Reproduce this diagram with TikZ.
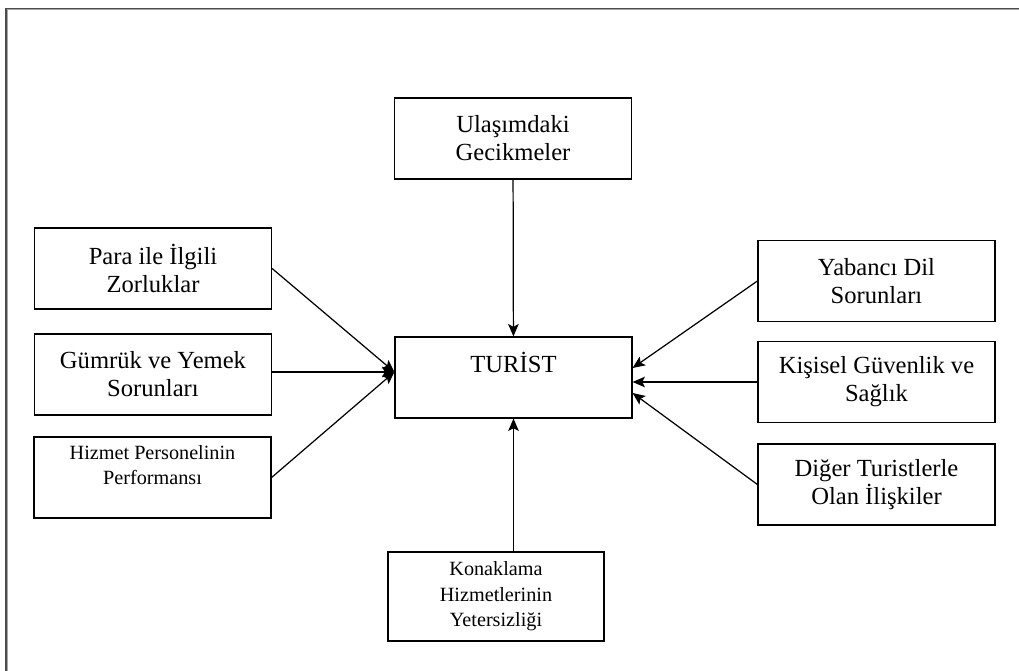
\documentclass[tikz,border=0pt]{standalone}
\usepackage{fontspec}
\setmainfont{Liberation Serif}
\usetikzlibrary{arrows.meta,calc}

\begin{document}
\begin{tikzpicture}[x=0.02cm,y=-0.02cm,
    factor/.style={draw, rectangle, line width=0.7pt, align=center, inner sep=0pt,
      minimum width=4.74cm, minimum height=1.62cm, font=\fontsize{14}{16}\selectfont},
    small/.style={font=\fontsize{11.5}{14}\selectfont},
    arr/.style={-{Stealth[length=7pt,width=6pt,inset=1.5pt]}, line width=0.7pt}]

    \useasboundingbox (0,0) rectangle (1019,671);

    % Page frame (top and left only)
    \draw[black!70, line width=0.6pt] (6,671) -- (6,8.5) -- (1019,8.5);
    \draw[black!35, line width=0.6pt] (7.2,671) -- (7.2,9.7) -- (1019,9.7);

    % Centre
    \node[factor, text depth=17.8pt] (turist) at (513.5,377.5) {TURİST};

    % Top and bottom
    \node[factor] (ulas) at (513,138.5) {Ulaşımdaki\\Gecikmeler};
    \node[factor, small, minimum width=4.32cm, minimum height=1.78cm,
      font=\fontsize{11.5}{14.5}\selectfont] (konak) at (496,596.5)
      {Konaklama\\Hizmetlerinin\\Yetersizliği};

    % Left column
    \node[factor] (para)   at (153,268.5) {Para ile İlgili\\Zorluklar};
    \node[factor] (gumruk) at (153,374.5) {Gümrük ve Yemek\\Sorunları};
    \node[factor, small] (hizmet) at (152.5,477.5) {Hizmet Personelinin\\Performansı\\~};

    % Right column
    \node[factor] (yabanci) at (876.5,281)   {Yabancı Dil\\Sorunları};
    \node[factor] (kisisel) at (876.5,382)   {Kişisel Güvenlik ve\\Sağlık};
    \node[factor] (diger)   at (876.5,484.5) {Diğer Turistlerle\\Olan İlişkiler};

    % Arrow tips on the centre box
    \coordinate (tipL) at ([yshift=0.11cm]turist.west);
    \coordinate (tipR) at ([yshift=-0.05cm]turist.east);

    % Arrows into TURIST
    \draw[arr] (ulas) -- (turist);
    \draw[arr] (konak.north -| turist.south) -- (turist.south);

    \draw[arr] (para.east) -- (tipL);
    \draw[arr] (gumruk.east |- tipL) -- (tipL);
    \draw[arr] (hizmet.east) -- (tipL);

    \draw[arr] (yabanci.west) -- ([yshift=0.19cm]turist.east);
    \draw[arr] (kisisel.west) -- (turist.east |- kisisel.west);
    \draw[arr] (diger.west) -- ([yshift=-0.31cm]turist.east);

\end{tikzpicture}
\end{document}
